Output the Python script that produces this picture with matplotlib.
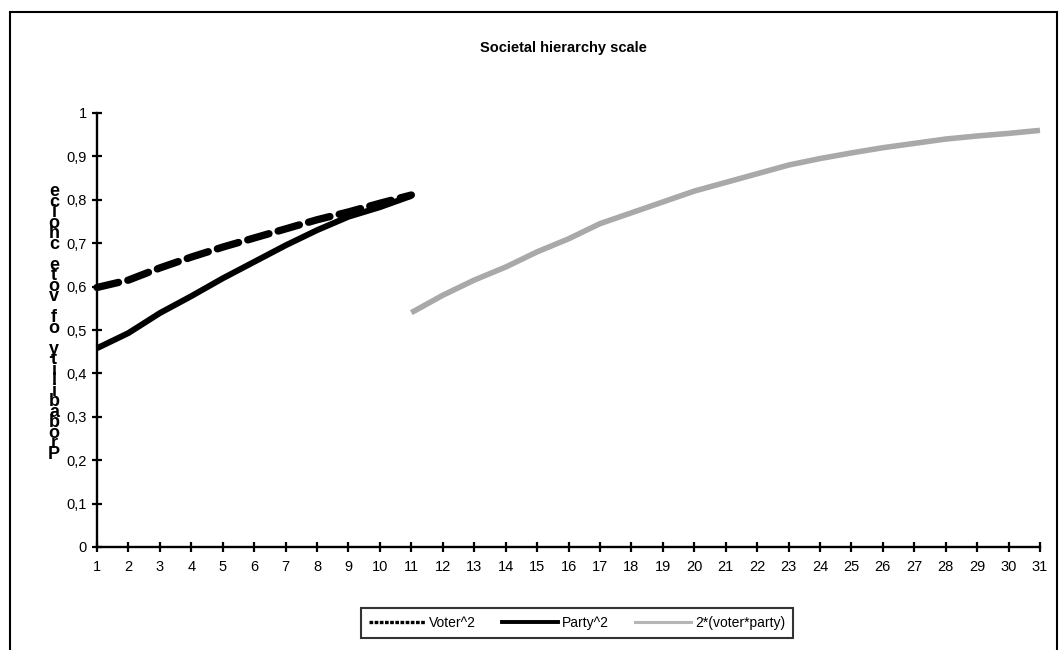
import matplotlib
matplotlib.use("Agg")
import matplotlib.pyplot as plt
from matplotlib.lines import Line2D
from matplotlib.patches import Rectangle

plt.rcParams['font.family'] = ['Liberation Sans', 'DejaVu Sans']

title = "Societal hierarchy scale"
ylabel = "Probability of vote choice"
series_names = ["Voter^2", "Party^2", "2*(voter*party)"]

x_voter = list(range(1, 12))
voter_sq = [0.598, 0.615, 0.643, 0.668, 0.691, 0.712, 0.733, 0.754, 0.772, 0.792, 0.811]

x_party = list(range(1, 12))
party_sq = [0.458, 0.493, 0.539, 0.578, 0.619, 0.657, 0.695, 0.730, 0.761, 0.783, 0.809]

x_inter = list(range(11, 32))
inter = [0.54, 0.58, 0.615, 0.645, 0.68, 0.71, 0.745, 0.77, 0.795, 0.82, 0.84,
         0.86, 0.88, 0.895, 0.908, 0.92, 0.93, 0.94, 0.947, 0.953, 0.96]

x_ticks = list(range(1, 32))
y_ticks = [0, 0.1, 0.2, 0.3, 0.4, 0.5, 0.6, 0.7, 0.8, 0.9, 1.0]
y_ticklabels = ["0", "0,1", "0,2", "0,3", "0,4", "0,5", "0,6", "0,7", "0,8", "0,9", "1"]

W, H = 1062, 650
fig = plt.figure(figsize=(W / 100, H / 100), dpi=100)
ax = fig.add_axes([97 / W, 1 - 547 / H, (1040 - 97) / W, (547 - 113) / H])

ax.plot(x_inter, inter, color="#a9a9a9", lw=4.0, solid_capstyle="butt", clip_on=False, zorder=2)
ax.plot(x_party, party_sq, color="black", lw=4.3, solid_capstyle="butt", clip_on=False, zorder=3)
ax.plot(x_voter, voter_sq, color="black", lw=5.3, dashes=(3.0, 1.3), dash_capstyle="round",
        clip_on=False, zorder=4)

ax.set_xlim(1, 31)
ax.set_ylim(0, 1)
ax.set_xticks(x_ticks)
ax.set_xticklabels([str(v) for v in x_ticks], fontsize=10.5)
ax.set_yticks(y_ticks)
ax.set_yticklabels(y_ticklabels, fontsize=10.5)
for s in ["top", "right"]:
    ax.spines[s].set_visible(False)
for s in ["left", "bottom"]:
    ax.spines[s].set_linewidth(1.7)
ax.tick_params(direction="inout", length=7, width=1.6, pad=4)
ax.tick_params(axis="x", pad=6)

# Title
fig.text(563 / W, 1 - 48 / H, title, ha="center", va="center", fontsize=10.5, fontweight="bold")

# Stacked y label: letters stacked vertically, read from bottom to top
stacked = "\n".join(reversed(list(ylabel)))
fig.text(54 / W, 1 - 323 / H, stacked, ha="center", va="center", fontsize=13,
         fontweight="bold", linespacing=0.50)

# Outer chart border
fig.patches.append(Rectangle((10 / W, -0.1), (1057 - 10) / W, 1.1 - 12 / H, transform=fig.transFigure,
                             fill=False, edgecolor="black", lw=1.5, clip_on=False))

handles = [
    Line2D([], [], color="black", lw=2.4, dashes=(1.1, 0.45)),
    Line2D([], [], color="black", lw=2.8),
    Line2D([], [], color="#b5b5b5", lw=2.2),
]
leg = fig.legend(handles, series_names, loc="center", bbox_to_anchor=(577 / W, 1 - 623 / H), ncol=3,
                 frameon=True, fancybox=False, fontsize=10, handlelength=4.0, handletextpad=0.3,
                 columnspacing=1.9, borderpad=0.6)
leg.get_frame().set_edgecolor("black")
leg.get_frame().set_linewidth(1.5)

fig.savefig("out.png", dpi=100)
